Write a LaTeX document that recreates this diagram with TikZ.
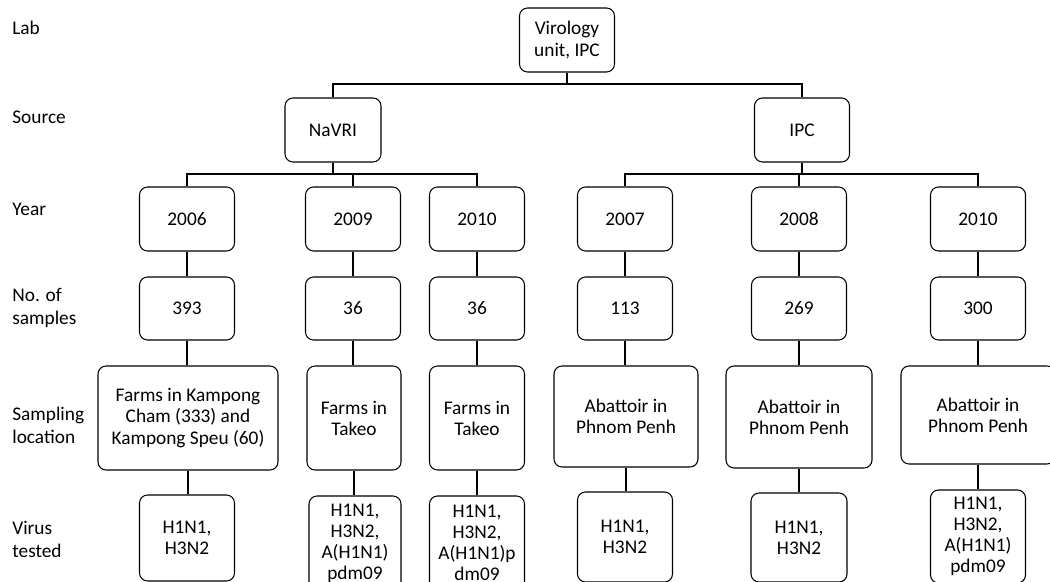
\documentclass[tikz,border=0pt]{standalone}
\usepackage{fontspec}
\setmainfont{Carlito}
\begin{document}
\begin{tikzpicture}[x=0.02cm,y=-0.02cm,
  box/.style={draw, rounded corners=0.16cm, align=center, inner sep=1pt, line width=0.6pt, font=\fontsize{11}{12}\selectfont},
  lbl/.style={anchor=west, align=left, inner sep=0pt, font=\fontsize{11}{13}\selectfont},
  conn/.style={line width=0.6pt}]
\useasboundingbox (0,0) rectangle (1050,581);
\clip (0,0) rectangle (1050,581);
\fill[white] (0,0) rectangle (1050,581);
% left labels
\node[lbl] (llab) at (12,28) {Lab};
\node[lbl] (lsrc) at (12,117) {Source};
\node[lbl] (lyear) at (12,209) {Year};
\node[lbl] (lnum) at (12,308) {No. of\\samples};
\node[lbl] (lloc) at (12,425) {Sampling\\location};
\node[lbl] (lvir) at (12,539) {Virus\\tested};
% boxes
\newcommand{\bx}[6]{\node[box, minimum width=#4*0.02cm, minimum height=#5*0.02cm] (#1) at (#2,#3) {#6};}
\bx{lab}{567}{40}{95}{64}{Virology\\unit, IPC}
\bx{navri}{333}{130}{96}{64}{NaVRI}
\bx{ipc}{802}{130}{95}{64}{IPC}
\bx{y1}{187}{219}{95}{64}{2006}
\bx{y2}{353}{219}{95}{64}{2009}
\bx{y3}{477}{219}{95}{64}{2010}
\bx{y4}{625}{219}{95}{64}{2007}
\bx{y5}{799}{219}{95}{64}{2008}
\bx{y6}{978}{219}{95}{64}{2010}
\bx{n1}{187}{308.5}{95}{63}{393}
\bx{n2}{353}{308.5}{95}{63}{36}
\bx{n3}{477}{308.5}{95}{63}{36}
\bx{n4}{625}{308.5}{95}{63}{113}
\bx{n5}{799}{308.5}{95}{63}{269}
\bx{n6}{978}{308.5}{95}{63}{300}
\bx{s1}{188}{418}{180}{104}{Farms in Kampong\\Cham (333) and\\Kampong Speu (60)}
\bx{s2}{354}{418}{94}{104}{Farms in\\Takeo}
\bx{s3}{477}{418}{95}{104}{Farms in\\Takeo}
\bx{s4}{626}{416.5}{144}{101}{Abattoir in\\Phnom Penh}
\bx{s5}{799}{417}{146}{102}{Abattoir in\\Phnom Penh}
\bx{s6}{978}{415}{154}{98}{Abattoir in\\Phnom Penh}
\bx{v1}{187}{538}{95}{86}{H1N1,\\H3N2}
\bx{v2}{355}{543}{92}{94}{H1N1,\\H3N2,\\A(H1N1)\\pdm09}
\bx{v3}{477}{543}{95}{94}{H1N1,\\H3N2,\\A(H1N1)p\\dm09}
\bx{v4}{625}{537}{95}{90}{H1N1,\\H3N2}
\bx{v5}{799}{537.5}{96}{89}{H1N1,\\H3N2}
\bx{v6}{978}{536.5}{95}{93}{H1N1,\\H3N2,\\A(H1N1)\\pdm09}
% tree connectors
\draw[conn] (lab.south) -- (lab.south |- 0,84) -| (navri.north);
\draw[conn] (lab.south |- 0,84) -| (ipc.north);
\draw[conn] (navri.south) -- (navri.south |- 0,174);
\draw[conn] (y1.north) |- (y3.north |- 0,174) -- (y3.north);
\draw[conn] (y2.north) -- (y2.north |- 0,174);
\draw[conn] (ipc.south) -- (ipc.south |- 0,174);
\draw[conn] (y4.north) |- (y6.north |- 0,174) -- (y6.north);
\draw[conn] (y5.north) -- (y5.north |- 0,174);
% column connectors
\foreach \i in {1,...,6}{
  \draw[conn] (y\i.south) -- (y\i.south |- n\i.north);
  \draw[conn] (n\i.south) -- (n\i.south |- s\i.north);
  \draw[conn] (s\i.south) -- (s\i.south |- v\i.north);
}
\end{tikzpicture}
\end{document}
